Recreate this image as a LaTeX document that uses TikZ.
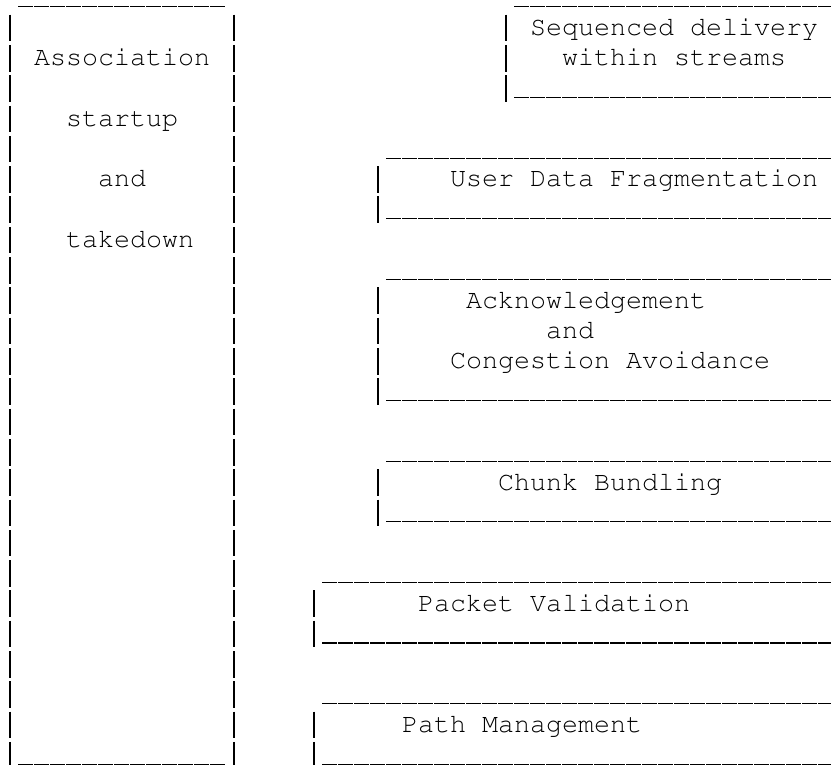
\documentclass[tikz,border=0pt]{standalone}
\usepackage[T1]{fontenc}
\usetikzlibrary{calc}

\begin{document}
\begin{tikzpicture}[x=1pt,y=-1pt]

	\tikzset{
		vbar/.style={line width=1.4pt,dash pattern=on 26.6pt off 3.7pt},
		hrule/.style={line width=1.3pt,dash pattern=on 15pt off 1pt},
		asciitext/.style={anchor=base west,inner sep=0pt,font=\fontfamily{pcr}\fontsize{26.67}{30.3}\selectfont}
	}

	\useasboundingbox (0,0) rectangle (831,765);

	\foreach \c in {0,14} {
			\draw[vbar] ({10+16*\c},14.7) -- ({10+16*\c},768.5);
		}
	\foreach \y in {6.7,764.2} {
			\draw[hrule] (18,\y) -- (226,\y);
		}

	\foreach \c/\ra/\rb in {31/1/3, 23/6/7, 23/10/13, 23/16/17, 19/20/21, 19/24/25} {
			\draw[hrule] ({18+16*\c},{30.3*\ra-23.6}) -- (831,{30.3*\ra-23.6});
			\draw[hrule] ({18+16*\c},{6.7+30.3*\rb}) -- (831,{6.7+30.3*\rb});
			\draw[vbar] ({10+16*\c},{30.3*\ra-15.6}) -- ({10+16*\c},{30.3*\rb+11});
		}

	\foreach \n/\c/\r/\t in {assoc/2/2/Association, startup/4/4/startup, and_l/6/6/and, takedown/4/8/takedown,
			seq/33/1/Sequenced delivery, streams/35/2/within streams, frag/28/6/User Data Fragmentation,
			ack/29/10/Acknowledgement, and_r/34/11/and, cong/28/12/Congestion Avoidance,
			chunk/31/16/Chunk Bundling, pktval/26/20/Packet Validation, pathmgmt/25/24/Path Management} {
			\node[asciitext] (\n) at ({2+16*\c},{5.2+30.3*\r}) {\t};
		}
\end{tikzpicture}
\end{document}
